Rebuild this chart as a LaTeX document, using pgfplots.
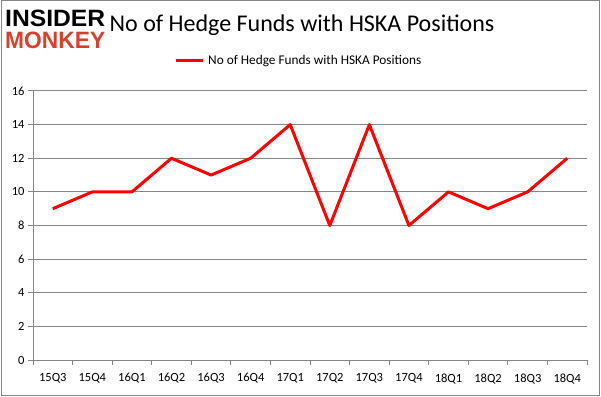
\documentclass[border=0pt]{standalone}
\usepackage{pgfplots}
\pgfplotsset{compat=1.18}
\usepackage{fontspec}
\setmainfont{Carlito}
\newfontfamily\logofont{Liberation Sans}
\definecolor{gridgray}{RGB}{134,134,134}
\definecolor{monkeyred}{RGB}{214,64,44}
\begin{document}
\begin{tikzpicture}[x=1pt,y=1pt]
\path[use as bounding box] (0,0) rectangle (601,396);
\draw[gridgray,line width=1pt] (1,1) rectangle (599.5,395.5);
% logo
\node[anchor=north west,inner sep=0pt,align=left] at (5,386) {\resizebox{100pt}{16.5pt}{\logofont\bfseries INSIDER}\\[4.5pt]\resizebox{100pt}{16.5pt}{\logofont\bfseries\color{monkeyred}MONKEY}};
% title
\node[font=\fontsize{24}{24}\selectfont,anchor=center] at (302,371) {No of Hedge Funds with HSKA Positions};
% legend
\draw[red,line width=3pt] (176,335) -- (203,335);
\node[anchor=west,font=\fontsize{13.3}{13.3}\selectfont,inner sep=0pt] at (208,335) {No of Hedge Funds with HSKA Positions};
\begin{axis}[
  at={(33pt,36pt)}, anchor=south west,
  scale only axis, width=554pt, height=269pt,
  xmin=-0.5, xmax=13.5, ymin=0, ymax=16,
  xtick={0,...,13},
  xticklabels={15Q3,15Q4,16Q1,16Q2,16Q3,16Q4,17Q1,17Q2,17Q3,17Q4,18Q1,18Q2,18Q3,18Q4},
  minor xtick={-0.5,0.5,...,13.5},
  major x tick style={draw=none},
  minor x tick style={gridgray,line width=1pt},
  minor tick length=5pt,
  ytick={0,2,...,16},
  major y tick style={gridgray,line width=1pt},
  major tick length=5pt,
  tick align=outside,
  axis x line*=bottom, axis y line*=left,
  axis line style={gridgray,line width=1pt,-},
  ymajorgrids, grid style={gridgray,line width=1pt},
  tick label style={font=\fontsize{12.5}{12.5}\selectfont},
  xticklabel style={yshift=-5pt},
  /pgf/number format/assume math mode=true,
  clip=false,
]
\addplot[red,line width=3pt,line join=round] coordinates {
(0,9)(1,10)(2,10)(3,12)(4,11)(5,12)(6,14)(7,8)(8,14)(9,8)(10,10)(11,9)(12,10)(13,12)};
\end{axis}
\end{tikzpicture}
\end{document}
